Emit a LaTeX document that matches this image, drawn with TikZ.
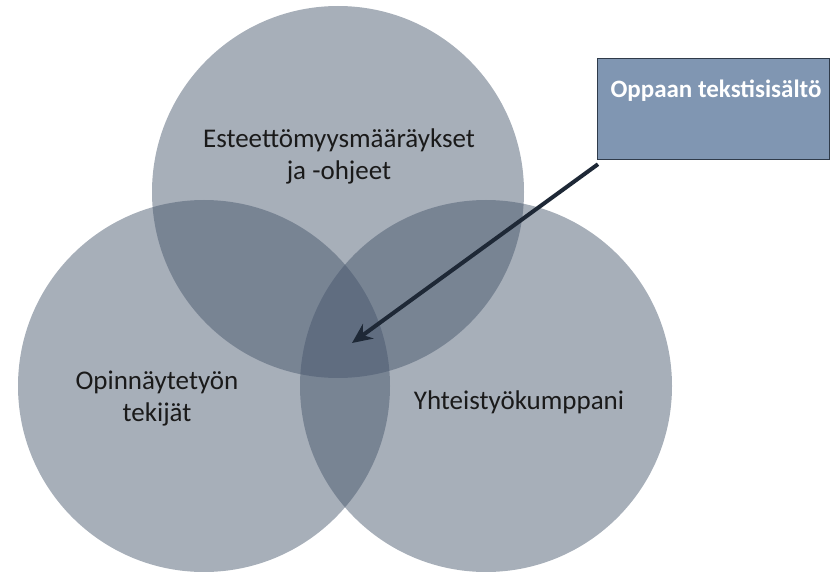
\documentclass[tikz,border=0pt]{standalone}
\usepackage{fontspec}
\setmainfont{Carlito}
\usetikzlibrary{arrows.meta}
\definecolor{venn}{HTML}{44546A}
\definecolor{boxfill}{HTML}{8096B2}
\definecolor{boxline}{HTML}{2F3B4A}
\definecolor{arrowc}{HTML}{1E2836}
\definecolor{txt}{HTML}{1A1A1A}
\tikzset{
  vcirc/.style={fill=venn, fill opacity=0.47, draw=none},
  vlabel/.style={text=txt, font=\fontsize{27}{32}\selectfont, align=center, inner sep=0pt},
  infobox/.style={draw=boxline, line width=1.2pt, fill=boxfill, minimum width=232pt, minimum height=101pt, anchor=north west, inner sep=0pt},
  pointer/.style={draw=arrowc, line width=4pt, -{Stealth[length=20pt,width=18pt]}}
}
\begin{document}
\begin{tikzpicture}[x=1pt,y=-1pt]
\useasboundingbox (0,0) rectangle (838,572);
\begin{scope}
\clip (0,0) rectangle (838,572);
\fill[vcirc] (338,192) circle (186);
\fill[vcirc] (204,386) circle (186);
\fill[vcirc] (486,386) circle (186);
\end{scope}
\node[vlabel] (top) at (339,156) {Esteettömyysmääräykset\\ja -ohjeet};
\node[vlabel] (left) at (157,399) {Opinnäytetyön\\tekijät};
\node[vlabel] (right) at (519,402) {Yhteistyökumppani};
\node[infobox] (box) at (597,58) {};
\node[text=white, font=\bfseries\fontsize{25}{29}\selectfont, inner sep=0pt] (boxtext) at (716,91) {Oppaan tekstisisältö};
\coordinate (tip) at (352,343);
\draw[pointer] ([shift={(1pt,-4pt)}]box.south west) -- (tip);
\end{tikzpicture}
\end{document}
